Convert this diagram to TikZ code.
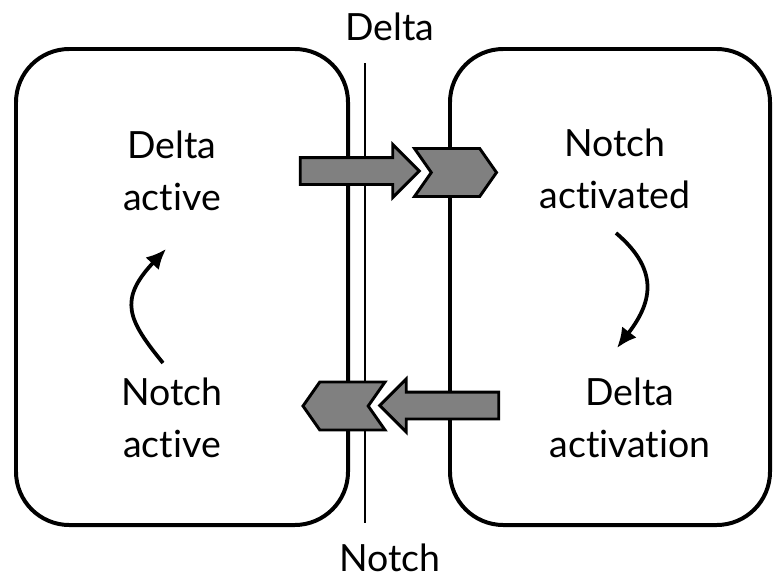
\documentclass[tikz,border=0pt]{standalone}
\usepackage{fontspec}
\setmainfont{Lato}[Ligatures=NoCommon]
\usetikzlibrary{arrows.meta, shapes.arrows, shapes.symbols}

\begin{document}
\begin{tikzpicture}[x=0.03cm, y=-0.03cm]
		\tikzstyle{cell} = [rectangle, draw=black, line width=3.4pt, rounded corners=1.6cm, minimum height=14.28cm, inner sep=0]
		\tikzstyle{state} = [align=center, font=\fontsize{32}{44}\selectfont]
		\tikzstyle{label} = [font=\fontsize{32}{44}\selectfont]

		\tikzstyle{ligand} = [single arrow, draw=black, fill=gray, line width=2.5pt, minimum height=3.57cm, minimum width=0, inner xsep=0, inner ysep=0.36cm, single arrow head extend=0.39cm, single arrow tip angle=90]
		\tikzstyle{receptor} = [signal, draw=black, fill=gray, line width=2.5pt, minimum width=2.46cm, minimum height=1.44cm, signal pointer angle=110, inner sep=0]
		\tikzstyle{feedback_line} = [-{Latex[length=0.6cm, width=0.55cm]}, line width=3.2pt]

		\useasboundingbox (0,0) rectangle (774,579);

		% Cells
		\node[cell, minimum width=9.96cm](cell_left) at (182,287){};
		\node[cell, minimum width=9.6cm](cell_right) at (610,287){};

		% Membrane between the cells
		\node[label](delta_label) at (390,27){Delta};
		\node[label](notch_label) at (390,558){Notch};
		\coordinate (membrane_top) at (365,63);
		\coordinate (membrane_bottom) at (365,523);
		\draw[line width=1.7pt] (membrane_top) -- (membrane_bottom);

		% States
		\node[state](delta_active) at (172,171){Delta\\active};
		\node[state](notch_active) at (172,418){Notch\\active};
		\node[state](notch_activated) at (615,169){Notch\\activated};
		\node[state](delta_activation) at (630,418){Delta\\activation};

		% Signalling across the membrane
		\node[ligand](signal_out) at (353,171){};
		\node[receptor, signal from=west, signal to=east](bind_right) at (455.5,172.5){};
		\node[receptor, signal from=east, signal to=west](bind_left) at (344,406){};
		\node[ligand, shape border rotate=180](signal_in) at (446,405.5){};

		% Feedback inside each cell
		\draw[feedback_line] (163,363) .. controls (128,320) and (118,300) .. (166,249);
		\draw[feedback_line] (616,233) .. controls (662,272) and (650,305) .. (617,348);

	\end{tikzpicture}
\end{document}
